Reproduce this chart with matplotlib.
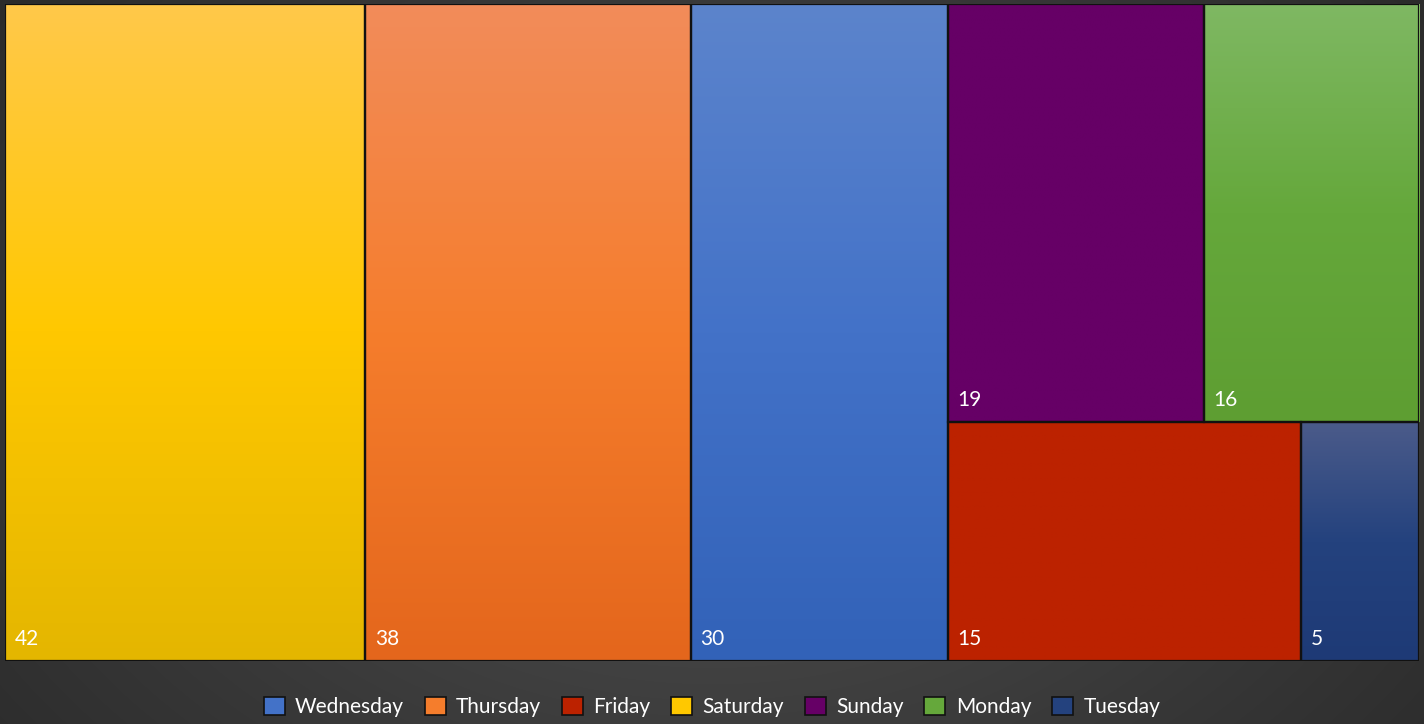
import matplotlib.pyplot as plt
import numpy as np
from matplotlib.patches import Rectangle, Patch
from matplotlib.colors import to_rgb

plt.rcParams['font.family'] = ['Lato', 'DejaVu Sans']

days = ['Saturday', 'Thursday', 'Wednesday', 'Sunday', 'Monday', 'Friday', 'Tuesday']
values = [42, 38, 30, 19, 16, 15, 5]

# treemap layout: columns -> rows -> tiles
groups = [[['Saturday']], [['Thursday']], [['Wednesday']],
          [['Sunday', 'Monday'], ['Friday', 'Tuesday']]]

legend_order = ['Wednesday', 'Thursday', 'Friday', 'Saturday', 'Sunday', 'Monday', 'Tuesday']

# top / middle / bottom colours of each tile
colors = {
    'Saturday': ['#ffc94a', '#ffc800', '#e4b600'],
    'Thursday': ['#f28c5a', '#f57d2c', '#e4661c'],
    'Wednesday': ['#5c84cc', '#4372c8', '#3262b8'],
    'Sunday': ['#660066', '#660066', '#660066'],
    'Monday': ['#7fb863', '#65a83b', '#5e9e32'],
    'Friday': ['#bc2200', '#bc2200', '#bc2200'],
    'Tuesday': ['#4b5b8a', '#24427e', '#1e3a76'],
}

val = dict(zip(days, values))
total = sum(values)

W, H = 1424, 724
fig = plt.figure(figsize=(W / 100, H / 100), dpi=100)

# dark radial background
bg = fig.add_axes([0, 0, 1, 1])
yy, xx = np.mgrid[0:H, 0:W]
r = np.sqrt(((xx - W / 2) / (W * 0.6)) ** 2 + ((yy - H * 0.55) / (H * 0.8)) ** 2)
g = np.clip(0.32 - 0.14 * r, 0.16, 0.32)
bg.imshow(np.dstack([g, g, g]), extent=[0, 1, 0, 1], aspect='auto')
bg.axis('off')

ax = fig.add_axes([5 / W, (H - 661) / H, 1414 / W, 657 / H])


def grad(cols, n=256):
    c = np.array([to_rgb(x) for x in cols])
    t = np.linspace(0, 1, n)
    img = np.zeros((n, 1, 3))
    for k in range(3):
        img[:, 0, k] = np.interp(t, [0, 0.5, 1], c[:, k])
    return img


x0 = 0
for col in groups:
    csum = sum(val[d] for row in col for d in row)
    cw = csum / total
    ytop = 1
    for row in col:
        rsum = sum(val[d] for d in row)
        rh = rsum / csum
        x = x0
        for d in row:
            w = val[d] / rsum * cw
            ax.imshow(grad(colors[d]), extent=[x, x + w, ytop - rh, ytop],
                      aspect='auto', interpolation='bilinear', zorder=1)
            ax.add_patch(Rectangle((x, ytop - rh), w, rh, fill=False,
                                   edgecolor='#111111', lw=1.6, zorder=2))
            ax.annotate(str(val[d]), (x, ytop - rh), xytext=(10, 16),
                        textcoords='offset pixels', color='white',
                        fontsize=15, va='baseline', ha='left', zorder=3)
            x += w
        ytop -= rh
    x0 += cw

ax.set_xlim(0, 1)
ax.set_ylim(0, 1)
ax.axis('off')

handles = [Patch(facecolor=colors[d][1], edgecolor='#111111', lw=1.2, label=d)
           for d in legend_order]
fig.legend(handles=handles, loc='center', bbox_to_anchor=(0.5, (H - 707) / H),
           ncol=7, frameon=False, fontsize=15, labelcolor='white',
           handlelength=1.0, handleheight=1.0, handletextpad=0.5, columnspacing=1.0)

fig.savefig('out.png', dpi=100, facecolor='#333333')
